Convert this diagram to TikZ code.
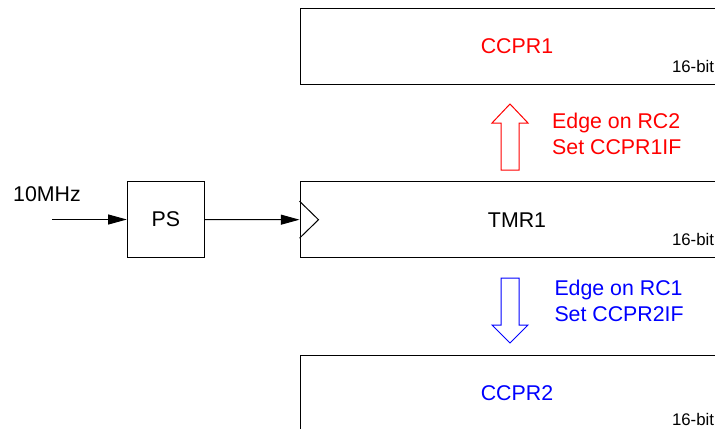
\documentclass[tikz,border=0pt]{standalone}
\usepackage{fontspec}
\setmainfont{Liberation Sans}
\usetikzlibrary{arrows.meta,calc}

\begin{document}
\begin{tikzpicture}[x=.75pt,y=-.75pt,line width=.75pt,
  every node/.style={font=\fontsize{16}{19.5}\selectfont,inner sep=0pt},
  reg/.style={draw,minimum width=325.5pt,minimum height=57pt},
  bits/.style={font=\fontsize{12.6}{15}\selectfont,anchor=base west},
  sig/.style={-{Triangle[length=14pt,width=7.5pt]}}]
  \path[use as bounding box] (0,0) rectangle (715,429);
  % registers, cut off on the right
  \node[reg,text=red] (ccpr1) at (517,46.5) {CCPR1};
  \node[reg] (tmr) at (517,219.7) {TMR1};
  \node[reg,text=blue] (ccpr2) at (517,393) {CCPR2};
  \node[bits] (w1) at (671.5,72) {16-bit};
  \node[bits] (w2) at (671.5,245) {16-bit};
  \node[bits] (w3) at (671.5,425) {16-bit};
  % prescaler and clock input
  \node[draw,minimum width=57.75pt,minimum height=57pt] (ps) at (165.8,219.5) {PS};
  \coordinate (clk) at (52,219.5);
  \node[anchor=base west] (fin) at (12.7,201.7) {10MHz};
  \draw[sig] (clk) -- (ps.west);
  \draw[sig] (ps.east) -- (tmr.west);
  \draw ($(tmr.west)+(0,-18.5)$) -- ($(tmr.west)+(19,0)$) -- ($(tmr.west)+(0,18.5)$);
  % capture events
  \draw[red] (501,170) |- (492,123) -- (510,104) -- (528,123) -| (519,170) -- cycle;
  \node[red,anchor=north west,align=left] (cap1) at (551.7,112.5) {Edge on RC2\\Set CCPR1IF};
  \draw[blue] (501,278) |- (492,325) -- (510,343) -- (528,325) -| (519,278) -- cycle;
  \node[blue,anchor=north west,align=left] (cap2) at (554,280) {Edge on RC1\\Set CCPR2IF};
\end{tikzpicture}
\end{document}
